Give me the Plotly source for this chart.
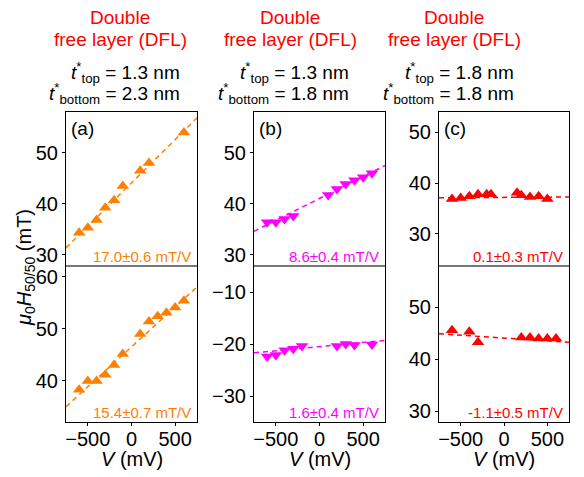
import plotly.graph_objects as go

# ---- data ----
va_top = [-600, -500, -400, -300, -200, -100, 100, 200, 600]
ha_top = [34.3, 35.3, 36.8, 39.2, 40.7, 43.5, 46.5, 48.0, 54.0]
va_bot = [-600, -500, -400, -300, -200, -100, 100, 200, 300, 400, 500, 600]
ha_bot = [38.2, 39.9, 39.9, 41.1, 43.0, 45.1, 49.0, 51.4, 52.4, 53.1, 54.1, 55.4]
vb_top = [-600, -500, -400, -300, 100, 200, 300, 400, 500, 600]
hb_top = [36.4, 36.4, 37.0, 37.6, 41.7, 42.9, 43.9, 44.6, 45.2, 46.0]
vb_bot = [-600, -500, -400, -300, -200, 200, 300, 400, 600]
hb_bot = [-22.4, -22.1, -21.2, -20.9, -20.4, -20.4, -20.0, -20.2, -20.1]
vc_top = [-600, -500, -400, -300, -200, -150, 150, 200, 300, 400, 500]
hc_top = [36.9, 37.1, 37.4, 37.8, 37.8, 37.8, 38.1, 37.6, 37.3, 37.4, 36.9]
vc_bot = [-600, -400, -300, 200, 300, 400, 500, 600]
hc_bot = [45.6, 45.3, 43.3, 44.2, 44.2, 44.0, 44.0, 44.0]

fit_slopes = [17.0, 15.4, 8.6, 1.6, 0.1, -1.1]        # mT/V
fit_errors = [0.6, 0.7, 0.4, 0.4, 0.3, 0.5]
fit_intercepts = [44.1, 46.5, 41.05, -20.5, 37.2, 44.1]  # mT at V=0

x_ticks = [-500, 0, 500]
x_ticktext = ["\u2212500", "0", "500"]
panel_labels = ["(a)", "(b)", "(c)"]
t_top = ["1.3", "1.3", "1.8"]
t_bottom = ["2.3", "1.8", "1.8"]

ORANGE = "#FF8000"
MAGENTA = "#FF00FF"
RED = "#FF0000"

series = [
    (va_top, ha_top, ORANGE, "triangle-up"),
    (va_bot, ha_bot, ORANGE, "triangle-up"),
    (vb_top, hb_top, MAGENTA, "triangle-down"),
    (vb_bot, hb_bot, MAGENTA, "triangle-down"),
    (vc_top, hc_top, RED, "triangle-up"),
    (vc_bot, hc_bot, RED, "triangle-up"),
]

# page is 584x477, the html body has an 8px default margin
OFF = 8
W, H = 584 - OFF, 477 - OFF


def px(p):
    return (p - OFF) / W


def py(p):
    return 1 - (p - OFF) / H


col_px = [(66, 197), (254, 385), (439, 569)]
top_px, mid_px, bot_px = 112, 266, 422
yranges = [[27.8, 58], [32, 62.1], [27.8, 58], [-35, -5], [23.7, 54], [27.9, 58]]
yticks = [[30, 40, 50], [40, 50, 60], [30, 40, 50], [-30, -20, -10], [30, 40, 50], [30, 40, 50]]
XR = [-750, 750]

fig = go.Figure()
FONT = "Liberation Sans, Arial, sans-serif"
layout = dict(
    width=W, height=H, margin=dict(l=0, r=0, t=0, b=0),
    paper_bgcolor="white", plot_bgcolor="white", showlegend=False,
    font=dict(family=FONT, size=19, color="black"),
)

annotations = []
shapes = []
for i, (vx, vy, col, sym) in enumerate(series):
    c = i // 2
    is_top = (i % 2 == 0)
    n = i + 1
    xa = "x" if n == 1 else f"x{n}"
    ya = "y" if n == 1 else f"y{n}"
    m, b = fit_slopes[i], fit_intercepts[i]
    fx = XR
    fy = [b + m * v / 1000.0 for v in fx]
    fig.add_trace(go.Scatter(x=fx, y=fy, mode="lines", xaxis=xa, yaxis=ya,
                             line=dict(color=col, width=1.5, dash="5px,4px"),
                             hoverinfo="skip"))
    fig.add_trace(go.Scatter(x=vx, y=vy, mode="markers", xaxis=xa, yaxis=ya,
                             marker=dict(symbol=sym, size=11, color=col, line=dict(width=0))))
    x0, x1 = col_px[c]
    if is_top:
        y0, y1 = top_px, mid_px
    else:
        y0, y1 = mid_px, bot_px
    xdom = [px(x0), px(x1)]
    ydom = [py(y1), py(y0)]
    xkey = "xaxis" if n == 1 else f"xaxis{n}"
    ykey = "yaxis" if n == 1 else f"yaxis{n}"
    layout[xkey] = dict(domain=xdom, range=XR, anchor=ya, showgrid=False, zeroline=False,
                        showline=True, linecolor="black", linewidth=1, mirror=is_top,
                        tickvals=x_ticks if not is_top else [],
                        ticktext=x_ticktext if not is_top else [],
                        ticks="outside" if not is_top else "", ticklen=3, tickcolor="black",
                        showticklabels=not is_top, tickfont=dict(size=20),
                        ticklabelstandoff=-4)
    ytv = yticks[i]
    layout[ykey] = dict(domain=ydom, range=yranges[i], anchor=xa, showgrid=False, zeroline=False,
                        showline=True, linecolor="black", linewidth=1, mirror=True,
                        tickvals=ytv, ticktext=[str(t).replace("-", "\u2212") for t in ytv],
                        ticks="outside", ticklen=3, tickcolor="black", tickfont=dict(size=20))
    # slope label
    annotations.append(dict(
        x=px(x1 - 4), y=py(y1 - 10), xref="paper", yref="paper",
        xanchor="right", yanchor="middle", showarrow=False,
        text=f"{fit_slopes[i]:.1f}\u00b1{fit_errors[i]:.1f} mT/V",
        font=dict(size=15, color=col)))
    if is_top:
        shapes.append(dict(type="line", xref="paper", yref="paper",
                           x0=px(x0), x1=px(x1), y0=py(mid_px), y1=py(mid_px),
                           line=dict(color="#777777", width=2), layer="above"))

title_cx = [120, 290, 454]
right_edge = [182, 351, 516]
for c in range(3):
    annotations.append(dict(x=px(title_cx[c]), y=py(17), xref="paper", yref="paper",
                            xanchor="center", yanchor="middle", showarrow=False,
                            text="Double", font=dict(size=19, color=RED)))
    annotations.append(dict(x=px(title_cx[c]), y=py(40), xref="paper", yref="paper",
                            xanchor="center", yanchor="middle", showarrow=False,
                            text="free layer (DFL)", font=dict(size=19, color=RED)))
    annotations.append(dict(x=px(right_edge[c]), y=py(72), xref="paper", yref="paper",
                            xanchor="right", yanchor="middle", showarrow=False,
                            text=f"<i>t</i><sup>*</sup><sub>top</sub> = {t_top[c]} nm",
                            font=dict(size=19, color="black")))
    annotations.append(dict(x=px(right_edge[c]), y=py(93), xref="paper", yref="paper",
                            xanchor="right", yanchor="middle", showarrow=False,
                            text=f"<i>t</i><sup>*</sup><sub>bottom</sub> = {t_bottom[c]} nm",
                            font=dict(size=19, color="black")))
    x0, x1 = col_px[c]
    annotations.append(dict(x=px(x0 + 3), y=py(128), xref="paper", yref="paper",
                            xanchor="left", yanchor="middle", showarrow=False,
                            text=panel_labels[c], font=dict(size=19, color="black")))
    annotations.append(dict(x=px((x0 + x1) / 2), y=py(459), xref="paper", yref="paper",
                            xanchor="center", yanchor="middle", showarrow=False,
                            text="<i>V</i> (mV)", font=dict(size=20, color="black")))

annotations.append(dict(x=px(25), y=py(268), xref="paper", yref="paper",
                        xanchor="center", yanchor="middle", showarrow=False, textangle=-90,
                        text="<i>\u03bc</i><sub>0</sub><i>H</i><sub>50/50</sub> (mT)",
                        font=dict(size=20, color="black")))

layout["annotations"] = annotations
layout["shapes"] = shapes
fig.update_layout(**layout)
fig.write_html("out.html")
